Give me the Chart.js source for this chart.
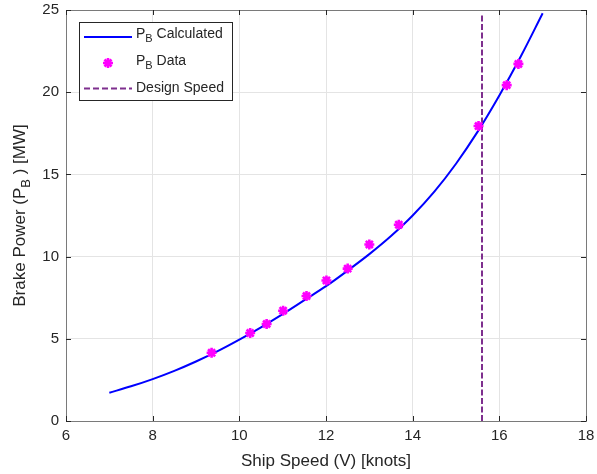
<!DOCTYPE html>
<html>
<head>
<meta charset="utf-8">
<script src="https://cdn.jsdelivr.net/npm/chart.js@4/dist/chart.umd.min.js"></script>
<style>
  html, body { margin: 0; padding: 0; background: #ffffff; }
  #wrap { width: 597px; height: 474px; position: relative; }
</style>
</head>
<body>
<div id="wrap"><canvas id="c" width="597" height="474"></canvas></div>
<script>
// Brake power curve (MW) sampled along ship speed (knots)
const curveSpeed = [7.0, 7.5, 8.0, 8.5, 9.0, 9.5, 10.0, 10.5, 11.0, 11.5, 12.0,
                    12.5, 13.0, 13.5, 14.0, 14.5, 15.0, 15.5, 16.0, 16.5, 17.0];
const curvePower = [1.72, 2.11, 2.55, 3.05, 3.62, 4.25, 4.95, 5.70, 6.50, 7.35, 8.20,
                    9.15, 10.15, 11.25, 12.50, 13.95, 15.65, 17.60, 19.80, 22.20, 24.80];

// Measured brake power
const dataSpeed = [9.36, 10.25, 10.63, 11.01, 11.55, 12.01, 12.50, 13.00, 13.68, 15.52, 16.17, 16.44];
const dataPower = [4.15, 5.35, 5.90, 6.71, 7.60, 8.55, 9.27, 10.74, 11.94, 17.94, 20.43, 21.72];

// Design speed marker line
const designSpeed = 15.6;
const designSpan = [0, 24.8];

const xTicks = [6, 8, 10, 12, 14, 16, 18];
const yTicks = [0, 5, 10, 15, 20, 25];

const FONT = "'Liberation Sans', Arial, Helvetica, sans-serif";
const TXT = '#262626';
const BLUE = '#0000ff';
const MAGENTA = '#ff00ff';
const PURPLE = '#7e2f8e';

const curvePts = curveSpeed.map((v, i) => ({ x: v, y: curvePower[i] }));
const dataPts = dataSpeed.map((v, i) => ({ x: v, y: dataPower[i] }));
const designPts = designSpan.map(p => ({ x: designSpeed, y: p }));

function drawStar(ctx, x, y, r, w, color) {
  ctx.save();
  ctx.strokeStyle = color;
  ctx.lineWidth = w;
  ctx.lineCap = 'butt';
  ctx.beginPath();
  for (let k = 0; k < 4; k++) {
    const a = k * Math.PI / 4;
    ctx.moveTo(x - r * Math.cos(a), y - r * Math.sin(a));
    ctx.lineTo(x + r * Math.cos(a), y + r * Math.sin(a));
  }
  ctx.stroke();
  ctx.restore();
}

// Text with a subscript after the first part: [before, sub, after]
function subText(ctx, x, y, parts, size) {
  ctx.font = size + 'px ' + FONT;
  ctx.fillText(parts[0], x, y);
  let cx = x + ctx.measureText(parts[0]).width;
  const subSize = Math.round(size * 0.78);
  ctx.font = subSize + 'px ' + FONT;
  ctx.fillText(parts[1], cx, y + size * 0.38);
  cx += ctx.measureText(parts[1]).width;
  ctx.font = size + 'px ' + FONT;
  if (parts[2]) ctx.fillText(parts[2], cx, y);
  return cx;
}

const frame = {
  id: 'frame',
  afterDraw(chart) {
    const { ctx, chartArea: a, scales } = chart;
    ctx.save();
    // axes box
    ctx.strokeStyle = '#7a7a7a';
    ctx.lineWidth = 1;
    ctx.strokeRect(Math.round(a.left) + 0.5, Math.round(a.top) + 0.5,
                   Math.round(a.right - a.left), Math.round(a.bottom - a.top));
    // inward tick marks on all four sides
    ctx.strokeStyle = '#262626';
    ctx.beginPath();
    xTicks.forEach(t => {
      const px = Math.round(scales.x.getPixelForValue(t)) + 0.5;
      ctx.moveTo(px, a.bottom); ctx.lineTo(px, a.bottom - 5);
      ctx.moveTo(px, a.top); ctx.lineTo(px, a.top + 5);
    });
    yTicks.forEach(t => {
      const py = Math.round(scales.y.getPixelForValue(t)) + 0.5;
      ctx.moveTo(a.left, py); ctx.lineTo(a.left + 5, py);
      ctx.moveTo(a.right, py); ctx.lineTo(a.right - 5, py);
    });
    ctx.stroke();

    // axis titles
    ctx.fillStyle = TXT;
    ctx.textBaseline = 'middle';
    ctx.textAlign = 'center';
    ctx.font = '17px ' + FONT;
    ctx.fillText('Ship Speed (V) [knots]', (a.left + a.right) / 2, 461);

    ctx.save();
    ctx.translate(20, (a.top + a.bottom) / 2);
    ctx.rotate(-Math.PI / 2);
    ctx.textAlign = 'left';
    ctx.font = '17px ' + FONT;
    const p1 = 'Brake Power (P', p2 = 'B', p3 = ' ) [MW]';
    const w1 = ctx.measureText(p1).width, w3 = ctx.measureText(p3).width;
    ctx.font = '13px ' + FONT;
    const w2 = ctx.measureText(p2).width;
    subText(ctx, -(w1 + w2 + w3) / 2, 0, [p1, p2, p3], 17);
    ctx.restore();

    // legend
    const lx = 79.5, ly = 22.5, lw = 153, lh = 78;
    ctx.fillStyle = '#ffffff';
    ctx.fillRect(lx, ly, lw, lh);
    ctx.strokeStyle = '#262626';
    ctx.lineWidth = 1;
    ctx.strokeRect(lx, ly, lw, lh);

    ctx.lineWidth = 2;
    ctx.strokeStyle = BLUE;
    ctx.beginPath(); ctx.moveTo(84, 37); ctx.lineTo(132, 37); ctx.stroke();

    drawStar(ctx, 108, 63, 5, 2.6, MAGENTA);

    ctx.strokeStyle = PURPLE;
    ctx.setLineDash([6, 3]);
    ctx.beginPath(); ctx.moveTo(84, 88.5); ctx.lineTo(132, 88.5); ctx.stroke();
    ctx.setLineDash([]);

    ctx.fillStyle = TXT;
    ctx.textAlign = 'left';
    ctx.textBaseline = 'middle';
    subText(ctx, 136, 34, ['P', 'B', ' Calculated'], 14);
    subText(ctx, 136, 61, ['P', 'B', ' Data'], 14);
    ctx.font = '14px ' + FONT;
    ctx.fillText('Design Speed', 136, 88);
    ctx.restore();
  }
};

new Chart(document.getElementById('c'), {
  type: 'scatter',
  data: {
    datasets: [
      {
        label: 'P_B Calculated',
        data: curvePts,
        showLine: true,
        borderColor: BLUE,
        borderWidth: 2,
        pointRadius: 0,
        cubicInterpolationMode: 'monotone',
        order: 3
      },
      {
        label: 'P_B Data',
        data: dataPts,
        showLine: false,
        pointStyle: 'star',
        pointRadius: 5,
        pointBorderWidth: 2.6,
        borderColor: MAGENTA,
        backgroundColor: MAGENTA,
        order: 1
      },
      {
        label: 'Design Speed',
        data: designPts,
        showLine: true,
        borderColor: PURPLE,
        borderWidth: 2,
        borderDash: [6, 2.5],
        pointRadius: 0,
        order: 2
      }
    ]
  },
  options: {
    responsive: false,
    animation: false,
    devicePixelRatio: 1,
    layout: { padding: { left: 0, top: 10, right: 11, bottom: 0 } },
    plugins: { legend: { display: false }, tooltip: { enabled: false } },
    scales: {
      x: {
        type: 'linear',
        min: 6, max: 18,
        afterBuildTicks: s => { s.ticks = xTicks.map(v => ({ value: v })); },
        afterFit: s => { s.height = 53; s.paddingLeft = 0; s.paddingRight = 0; },
        grid: { color: '#e4e4e4', drawTicks: false },
        border: { display: false },
        ticks: { color: TXT, font: { family: FONT, size: 15 }, padding: 6, maxRotation: 0 }
      },
      y: {
        type: 'linear',
        min: 0, max: 25,
        afterBuildTicks: s => { s.ticks = yTicks.map(v => ({ value: v })); },
        afterFit: s => { s.width = 66; s.paddingTop = 0; s.paddingBottom = 0; },
        grid: { color: '#e4e4e4', drawTicks: false },
        border: { display: false },
        ticks: { color: TXT, font: { family: FONT, size: 15 }, padding: 7 }
      }
    }
  },
  plugins: [frame]
});
</script>
</body>
</html>
